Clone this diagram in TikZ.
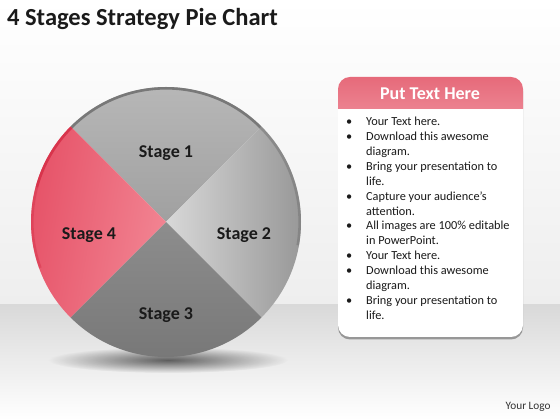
\documentclass[tikz,border=0pt]{standalone}
\usepackage{fontspec}
\setmainfont{Carlito}
\usetikzlibrary{shadows,fadings}
\tikzfading[name=softshadow, inner color=transparent!0, outer color=transparent!100]
\definecolor{sOneT}{HTML}{B9B9B9}
\definecolor{sOneB}{HTML}{A0A0A0}
\definecolor{sTwoL}{HTML}{D8D8D8}
\definecolor{sTwoR}{HTML}{929292}
\definecolor{sThrT}{HTML}{8D8D8D}
\definecolor{sThrB}{HTML}{767676}
\definecolor{sFouL}{HTML}{E54E64}
\definecolor{sFouR}{HTML}{F28593}
\definecolor{rimGray}{HTML}{787878}
\definecolor{rimRed}{HTML}{D8344C}
\definecolor{headT}{HTML}{E66A7A}
\definecolor{headB}{HTML}{EC8290}
\definecolor{wallB}{HTML}{EEEEEE}
\definecolor{floorT}{HTML}{D9D9D9}
\definecolor{floorM}{HTML}{F1F1F1}
\definecolor{txt}{HTML}{1A1A1A}
\tikzset{
  stagelabel/.style={font=\fontsize{18}{20}\selectfont\bfseries, text=txt, inner sep=0pt},
  rim/.style={line width=2.6pt}
}
\begin{document}
\begin{tikzpicture}[x=1pt,y=1pt]
\useasboundingbox (0,0) rectangle (560,420);
% background
\shade[top color=white, bottom color=wallB] (0,115) rectangle (560,420);
\shade[top color=floorT, middle color=floorM, bottom color=white] (0,0) rectangle (560,115);
% title
\node[anchor=base west, inner sep=0pt, font=\fontsize{24.5}{28}\selectfont\bfseries, text=txt] (title) at (7,394) {4 Stages Strategy Pie Chart};
% pie shadow
\fill[black, opacity=0.6, path fading=softshadow] (168,60) ellipse[x radius=120, y radius=13];
% pie
\coordinate (c) at (166,198);
\shade[top color=sOneT, bottom color=sOneB] (c) -- ++(45:135) arc[start angle=45, end angle=135, radius=135] -- cycle;
\shade[left color=sTwoL, right color=sTwoR] (c) -- ++(-45:135) arc[start angle=-45, end angle=45, radius=135] -- cycle;
\shade[top color=sThrT, bottom color=sThrB] (c) -- ++(225:135) arc[start angle=225, end angle=315, radius=135] -- cycle;
\shade[left color=sFouL, right color=sFouR, shading angle=80] (c) -- ++(135:135) arc[start angle=135, end angle=225, radius=135] -- cycle;
% rims
\draw[rim, rimGray] (c) ++(45:133.7) arc[start angle=45, end angle=135, radius=133.7];
\draw[rim, rimGray, opacity=0.6] (c) ++(-10:133.7) arc[start angle=-10, end angle=45, radius=133.7];
\draw[rim, rimRed] (c) ++(135:133.7) arc[start angle=135, end angle=165, radius=133.7];
\draw[rim, rimRed, opacity=0.5] (c) ++(165:133.7) arc[start angle=165, end angle=200, radius=133.7];
% stage labels
\node[stagelabel] (s1) at (166,266.5) {Stage 1};
\node[stagelabel] (s2) at (244,185) {Stage 2};
\node[stagelabel] (s3) at (166,105) {Stage 3};
\node[stagelabel] (s4) at (89,185) {Stage 4};
% text box
\fill[white, rounded corners=12pt, drop shadow={shadow xshift=0pt, shadow yshift=-2.5pt, opacity=0.5, fill=black!70}] (338,83) rectangle (523,343);
\begin{scope}
  \clip[rounded corners=12pt] (338,83) rectangle (523,343);
  \shade[top color=headT, bottom color=headB] (338,311) rectangle (523,343);
\end{scope}
\node[font=\fontsize{18}{20}\selectfont\bfseries, text=white, inner sep=0pt] (head) at (430,326) {Put Text Here};
\node[anchor=base west, inner sep=0pt, text=txt, font=\fontsize{12.3}{14.85}\selectfont] (list) at (346,294) {%
\begin{tabular}[t]{@{}p{20pt}@{}l@{}}
\textbullet & Your Text here.\\
\textbullet & Download this awesome\\
 & diagram.\\
\textbullet & Bring your presentation to\\
 & life.\\
\textbullet & Capture your audience’s\\
 & attention.\\
\textbullet & All images are 100\% editable\\
 & in PowerPoint.\\
\textbullet & Your Text here.\\
\textbullet & Download this awesome\\
 & diagram.\\
\textbullet & Bring your presentation to\\
 & life.
\end{tabular}};
% logo
\node[anchor=base west, inner sep=0pt, font=\fontsize{11.3}{13}\selectfont, text=black!80] (logo) at (505.5,10.5) {Your Logo};
\end{tikzpicture}
\end{document}
